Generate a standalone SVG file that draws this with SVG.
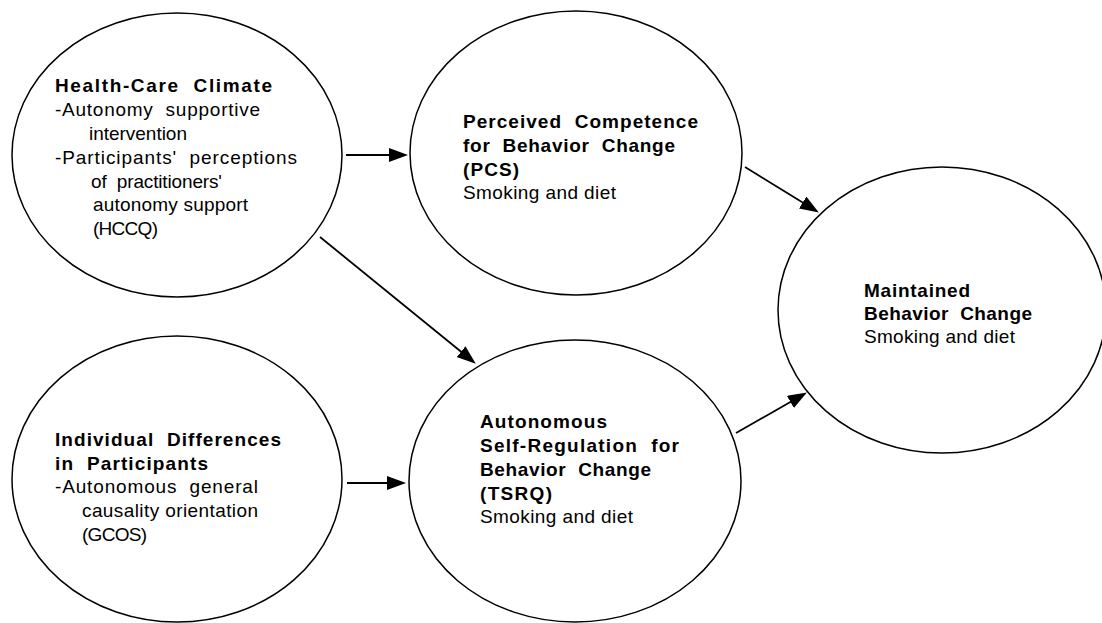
<svg xmlns="http://www.w3.org/2000/svg" width="1102" height="623" viewBox="0 0 1102 623">
<style>
.node ellipse{fill:#fff;stroke:#000;stroke-width:1.5}
text{font-family:"Liberation Sans",Arial,sans-serif;font-size:19px;fill:#000;white-space:pre}
.b{font-weight:bold}
.conn line{stroke:#000;stroke-width:1.8;fill:none}
</style>
<defs>
<marker id="ah" markerUnits="userSpaceOnUse" markerWidth="20" markerHeight="16" refX="10" refY="7" orient="auto">
<path d="M0,0 L19,7 L0,14 z" fill="#000"/>
</marker>
</defs>
<rect width="1102" height="623" fill="#fff"/>
<g id="n-health" class="node">
<ellipse cx="177" cy="155" rx="165" ry="142"/>
<text x="55" y="92" class="b" textLength="217" xml:space="preserve">Health-Care  Climate</text>
<text x="55" y="116" textLength="205" xml:space="preserve">-Autonomy  supportive</text>
<text x="89" y="140" textLength="98">intervention</text>
<text x="55" y="164" textLength="242" xml:space="preserve">-Participants'  perceptions</text>
<text x="91" y="188" textLength="131" xml:space="preserve">of  practitioners'</text>
<text x="93" y="211" textLength="155">autonomy support</text>
<text x="93" y="235" textLength="65">(HCCQ)</text>
</g>
<g id="n-pcs" class="node">
<ellipse cx="576" cy="153" rx="166" ry="142"/>
<text x="463" y="128" class="b" textLength="235" xml:space="preserve">Perceived  Competence</text>
<text x="463" y="152" class="b" textLength="212" xml:space="preserve">for  Behavior  Change</text>
<text x="463" y="176" class="b" textLength="56">(PCS)</text>
<text x="463" y="199" textLength="153">Smoking and diet</text>
</g>
<g id="n-indiv" class="node">
<ellipse cx="177" cy="479" rx="165" ry="143"/>
<text x="55" y="446" class="b" textLength="226" xml:space="preserve">Individual  Differences</text>
<text x="55" y="470" class="b" textLength="153" xml:space="preserve">in  Participants</text>
<text x="55" y="493" textLength="203" xml:space="preserve">-Autonomous  general</text>
<text x="82" y="517" textLength="176">causality orientation</text>
<text x="82" y="541" textLength="65">(GCOS)</text>
</g>
<g id="n-tsrq" class="node">
<ellipse cx="575" cy="481" rx="166" ry="141"/>
<text x="480" y="428" class="b" textLength="127">Autonomous</text>
<text x="480" y="452" class="b" textLength="199" xml:space="preserve">Self-Regulation  for</text>
<text x="480" y="476" class="b" textLength="171" xml:space="preserve">Behavior  Change</text>
<text x="480" y="500" class="b" textLength="72">(TSRQ)</text>
<text x="480" y="523" textLength="153">Smoking and diet</text>
</g>
<g id="n-maint" class="node">
<ellipse cx="942" cy="310" rx="164" ry="143"/>
<text x="864" y="297" class="b" textLength="106">Maintained</text>
<text x="864" y="320" class="b" textLength="168" xml:space="preserve">Behavior  Change</text>
<text x="864" y="343" textLength="151">Smoking and diet</text>
</g>
<g id="connectors" class="conn">
<line x1="346" y1="155" x2="399" y2="155" marker-end="url(#ah)"/>
<line x1="320" y1="237" x2="468.8" y2="358" marker-end="url(#ah)"/>
<line x1="347" y1="483" x2="397" y2="483" marker-end="url(#ah)"/>
<line x1="745" y1="167" x2="811.2" y2="207.8" marker-end="url(#ah)"/>
<line x1="736" y1="433" x2="799.1" y2="397" marker-end="url(#ah)"/>
</g>
</svg>
